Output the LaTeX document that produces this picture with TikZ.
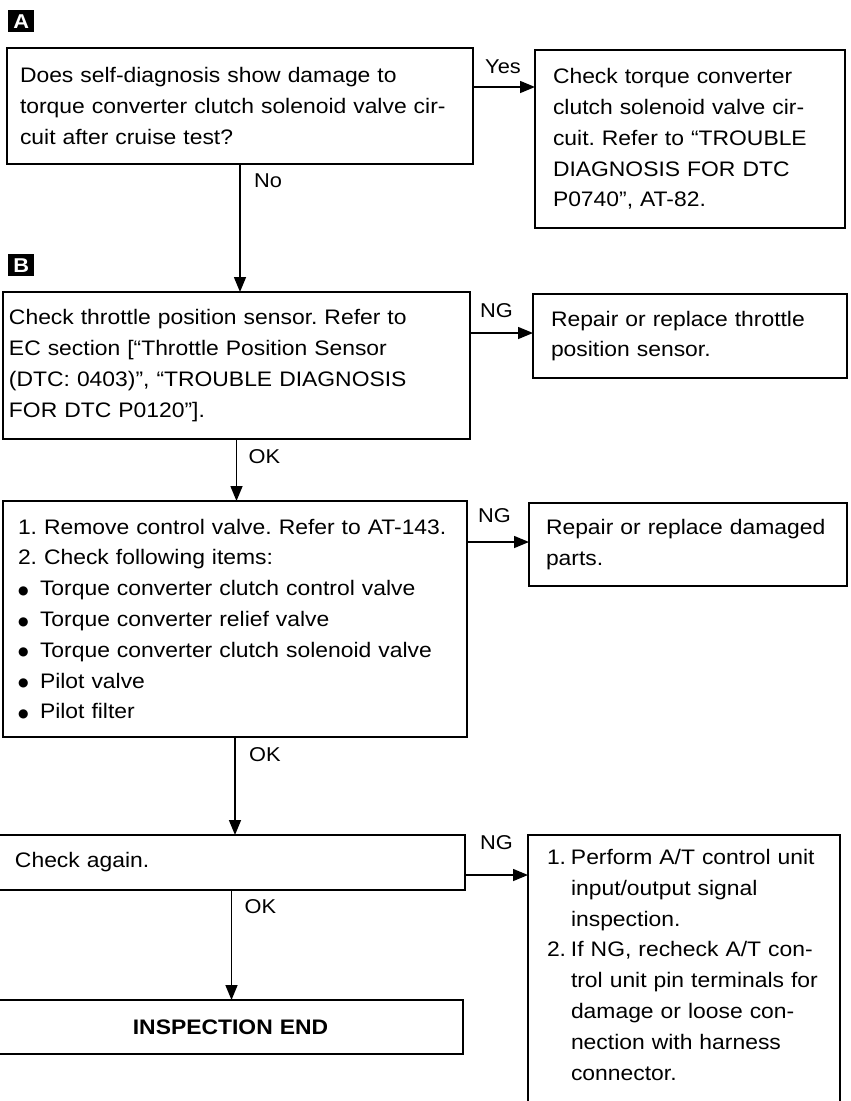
\documentclass[tikz,border=0pt]{standalone}
\usepackage{fontspec}
\setmainfont{Liberation Sans}[FakeStretch=1.09]
\newfontfamily\dejavu{DejaVu Sans}
\usetikzlibrary{arrows.meta,calc}
\newcommand\bulletmark{\makebox[22pt][l]{\raisebox{1.5pt}{\dejavu\fontsize{12}{12}\selectfont ●}}}
\tikzset{
  box/.style={draw, line width=1.5pt, outer sep=0pt, inner ysep=2pt, align=left,
    anchor=north west, font=\fontsize{21}{30.8}\selectfont\frenchspacing},
  arr/.style={line width=1.5pt, -{Triangle[length=15pt,width=12pt]}},
  lbl/.style={anchor=base west, inner sep=0pt, font=\fontsize{20}{24}\selectfont},
  marker/.style={fill=black, text=white, anchor=north west, inner sep=0pt,
    minimum width=26pt, minimum height=22pt, font=\fontsize{20}{22}\selectfont\bfseries}
}
\begin{document}
\begin{tikzpicture}[x=1pt,y=-1pt]
\useasboundingbox (0,0) rectangle (851,1101);
\clip (0,0) rectangle (851,1101);

\node[marker] (mA) at (8,10) {A};
\node[marker] (mB) at (8,254) {B};

\node[box, minimum width=466pt, minimum height=116pt, inner xsep=13pt, text width=440pt] (A1) at (7,48)
 {\mbox{Does self-diagnosis show damage to}\\
  \mbox{torque converter clutch solenoid valve cir-}\\
  \mbox{cuit after cruise test?}};

\node[box, minimum width=310pt, minimum height=178pt, inner xsep=18pt, text width=274pt] (A2) at (535,50)
 {\mbox{Check torque converter}\\
  \mbox{clutch solenoid valve cir-}\\
  \mbox{cuit. Refer to “TROUBLE}\\
  \mbox{DIAGNOSIS FOR DTC}\\
  \mbox{P0740”, AT-82.}};

\node[box, minimum width=467pt, minimum height=147pt, inner xsep=6pt, text width=455pt] (B1) at (3,292)
 {\mbox{Check throttle position sensor. Refer to}\\
  \mbox{EC section [“Throttle Position Sensor}\\
  \mbox{(DTC: 0403)”, “TROUBLE DIAGNOSIS}\\
  \mbox{FOR DTC P0120”].}};

\node[box, minimum width=314pt, minimum height=84pt, inner xsep=18pt, text width=278pt] (B2) at (533,294)
 {\mbox{Repair or replace throttle}\\
  \mbox{position sensor.}};

\node[box, minimum width=464pt, minimum height=236pt, inner xsep=15pt, text width=434pt] (C1) at (3,501)
 {\mbox{1. Remove control valve. Refer to AT-143.}\\
  \mbox{2. Check following items:}\\
  \mbox{\bulletmark Torque converter clutch control valve}\\
  \mbox{\bulletmark Torque converter relief valve}\\
  \mbox{\bulletmark Torque converter clutch solenoid valve}\\
  \mbox{\bulletmark Pilot valve}\\
  \mbox{\bulletmark Pilot filter}};

\node[box, minimum width=318pt, minimum height=83pt, inner xsep=17pt, text width=284pt] (C2) at (529,503)
 {\mbox{Repair or replace damaged}\\
  \mbox{parts.}};

\node[box, minimum width=467pt, minimum height=55pt, inner xsep=17pt, text width=433pt] (D1) at (-2,835)
 {\mbox{Check again.}};

\node[box, minimum width=312pt, minimum height=290pt, inner xsep=19pt, text width=274pt] (D2) at (528,835)
 {\mbox{\makebox[24pt][l]{1.}Perform A/T control unit}\\
  \mbox{\hspace*{24pt}input/output signal}\\
  \mbox{\hspace*{24pt}inspection.}\\
  \mbox{\makebox[24pt][l]{2.}If NG, recheck A/T con-}\\
  \mbox{\hspace*{24pt}trol unit pin terminals for}\\
  \mbox{\hspace*{24pt}damage or loose con-}\\
  \mbox{\hspace*{24pt}nection with harness}\\
  \mbox{\hspace*{24pt}connector.}\\
  \mbox{}};

\node[box, align=center, minimum width=465pt, minimum height=54pt, text width=440pt,
  font=\fontsize{21}{30.8}\selectfont\bfseries] (END) at (-2,1000)
 {INSPECTION END};

% vertical connectors
\draw[arr] (A1.south) -- (A1.south |- B1.north);
\node[lbl] (lNo) at ($(A1.south)+(14,23)$) {No};
\draw[arr] (B1.south) -- (B1.south |- C1.north);
\node[lbl] (lOK1) at ($(B1.south)+(12,24)$) {OK};
\draw[arr] (C1.south) -- (C1.south |- D1.north);
\node[lbl] (lOK2) at ($(C1.south)+(14,24)$) {OK};
\draw[arr] (D1.south) -- (D1.south |- END.north);
\node[lbl] (lOK3) at ($(D1.south)+(13,23)$) {OK};

% horizontal connectors
\coordinate (ya) at ($(A1.north east)+(0,39)$);
\draw[arr] (ya) -- (ya -| A2.west);
\node[lbl] (lYes) at ($(ya)+(12,-14)$) {Yes};
\coordinate (yb) at ($(B1.north east)+(0,41)$);
\draw[arr] (yb) -- (yb -| B2.west);
\node[lbl] (lNG1) at ($(yb)+(10,-16)$) {NG};
\coordinate (yc) at ($(C1.north east)+(0,41)$);
\draw[arr] (yc) -- (yc -| C2.west);
\node[lbl] (lNG2) at ($(yc)+(11,-20)$) {NG};
\coordinate (yd) at ($(D1.north east)+(0,40)$);
\draw[arr] (yd) -- (yd -| D2.west);
\node[lbl] (lNG3) at ($(yd)+(15,-26)$) {NG};
\end{tikzpicture}
\end{document}
